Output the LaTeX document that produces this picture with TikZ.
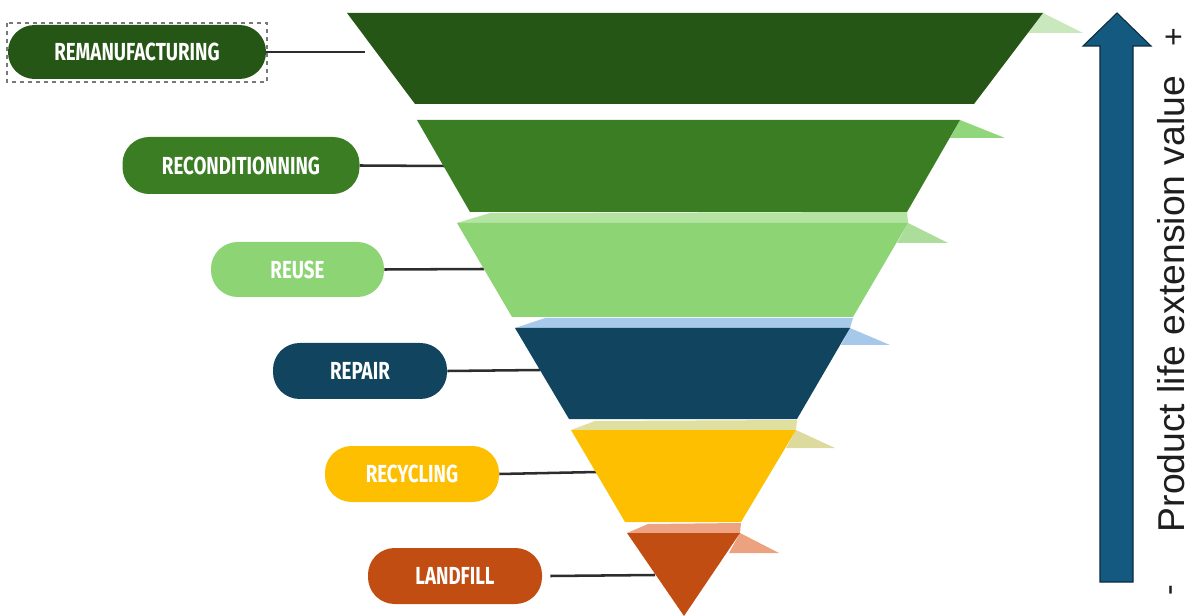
\documentclass[tikz,border=0pt]{standalone}
\usepackage{fontspec}
\usepackage{tikz}
\newfontfamily\pillfont[FakeStretch=0.76]{Fira Sans}
\newfontfamily\axisfont{Liberation Sans}

\definecolor{remangreen}{RGB}{37,86,22}
\definecolor{recondgreen}{RGB}{58,125,35}
\definecolor{reusegreen}{RGB}{140,212,116}
\definecolor{repairblue}{RGB}{16,68,95}
\definecolor{recycleyellow}{RGB}{253,191,0}
\definecolor{landfillrust}{RGB}{193,77,19}
\definecolor{arrowblue}{RGB}{20,90,128}

\tikzset{
  pill/.style={rounded corners=20pt, inner sep=0pt, text=white,
    font=\pillfont\bfseries\fontsize{18.5}{20}\selectfont},
  link/.style={draw={rgb,255:red,45;green,45;blue,45}, line width=1.9pt},
}

\begin{document}
\begin{tikzpicture}[x=0.75pt,y=0.75pt,yscale=-1,xscale=1]
    \useasboundingbox (0,0) rectangle (1192,616);

    % Text Node
    \node (reman) [pill, fill=remangreen, minimum width=0.75*258pt, minimum height=0.75*54pt] at (137,52) {REMANUFACTURING};
    % Text Node
    \node (recond) [pill, fill=recondgreen, minimum width=0.75*237pt, minimum height=0.75*57pt] at (241,165.5) {RECONDITIONNING};
    % Text Node
    \node (reuse) [pill, fill=reusegreen, minimum width=0.75*173pt, minimum height=0.75*55pt] at (297.5,269.5) {REUSE};
    % Text Node
    \node (repair) [pill, fill=repairblue, minimum width=0.75*174pt, minimum height=0.75*56pt] at (360,371) {REPAIR};
    % Text Node
    \node (recycle) [pill, fill=recycleyellow, minimum width=0.75*174pt, minimum height=0.75*56pt] at (412,474) {RECYCLING};
    % Text Node
    \node (landfill) [pill, fill=landfillrust, minimum width=0.75*174pt, minimum height=0.75*56pt] at (455,576) {LANDFILL};

    %Shape: Rectangle (selection frame)
    \draw [color={rgb, 255:red, 120; green, 120; blue, 120 }, dashed, line width=0.8pt] (7,23) rectangle (267,82);

    % ends of the connectors on the funnel
    \coordinate (remanend) at (365,52);
    \coordinate (recondend) at (446,166);
    \coordinate (reuseend) at (484,269);
    \coordinate (repairend) at (540,370);
    \coordinate (recycleend) at (597,472);
    \coordinate (landfillend) at (655,575);

    %Straight Lines
    \draw [link] (reman.east) -- (remanend);
    \draw [link] (recond.east) -- (recondend);
    \draw [link] (reuse.east) -- (reuseend);
    \draw [link] (repair.east) -- (repairend);
    \draw [link] (recycle.east) -- (recycleend);
    \draw [link] ([xshift=6pt]landfill.east) -- (landfillend);

    %Shape: Flaps
    \fill [color={rgb, 255:red, 201; green, 232; blue, 189 }] (1043,13) -- (1083,33) -- (1028,33) -- cycle;
    \fill [color={rgb, 255:red, 143; green, 215; blue, 122 }] (960,120) -- (1005,138) -- (950,138) -- cycle;
    \fill [color={rgb, 255:red, 172; green, 221; blue, 155 }] (908,223) -- (948,243) -- (897,243) -- cycle;
    \fill [color={rgb, 255:red, 166; green, 200; blue, 234 }] (850,328) -- (890,345) -- (841,345) -- cycle;
    \fill [color={rgb, 255:red, 220; green, 219; blue, 157 }] (796,430) -- (835,448) -- (786,448) -- cycle;
    \fill [color={rgb, 255:red, 236; green, 162; blue, 127 }] (740,533) -- (779,553) -- (729,553) -- cycle;

    %Shape: Slivers
    \fill [color={rgb, 255:red, 180; green, 227; blue, 162 }] (457,223) -- (490,213) -- (907,212) -- (908,223) -- cycle;
    \fill [color={rgb, 255:red, 167; green, 201; blue, 234 }] (515,328) -- (545,318) -- (853,318) -- (850,328) -- cycle;
    \fill [color={rgb, 255:red, 223; green, 223; blue, 159 }] (571,430) -- (595,421) -- (797,420) -- (796,430) -- cycle;
    \fill [color={rgb, 255:red, 237; green, 163; blue, 129 }] (627,533) -- (648,524) -- (741,523) -- (740,533) -- cycle;

    %Shape: Trapezoids
    \fill [remangreen] (347,13) -- (1043,13) -- (974,104) -- (415,104) -- cycle;
    \fill [recondgreen] (417,120) -- (960,120) -- (907,212) -- (470,212) -- cycle;
    \fill [reusegreen] (457,223) -- (908,223) -- (853,317) -- (512,317) -- cycle;
    \fill [repairblue] (515,328) -- (850,328) -- (797,419) -- (569,419) -- cycle;
    \fill [recycleyellow] (571,430) -- (796,430) -- (741,522) -- (625,522) -- cycle;
    \fill [landfillrust] (627,533) -- (740,533) -- (684,616) -- cycle;

    %Shape: Up Arrow
    \draw [fill=arrowblue, draw={rgb, 255:red, 13; green, 43; blue, 62 }, line width=0.8pt] (1117,13) -- (1151,46) -- (1133,46) -- (1133,582) -- (1100,582) -- (1100,46) -- (1083,46) -- cycle;

    % Text Node
    \node (axislabel) [rotate=90, font=\axisfont\fontsize{28}{31}\selectfont, text={rgb,255:red,30;green,30;blue,30}] at (1171,304) {Product life extension value};
    % Text Node
    \node (plus) [font=\axisfont\fontsize{24}{26}\selectfont, rotate=90, text={rgb,255:red,30;green,30;blue,30}] at (1175,37) {+};
    % Text Node
    \node (minus) [font=\axisfont\fontsize{24}{26}\selectfont, rotate=90, text={rgb,255:red,30;green,30;blue,30}] at (1175,590) {-};
\end{tikzpicture}
\end{document}
